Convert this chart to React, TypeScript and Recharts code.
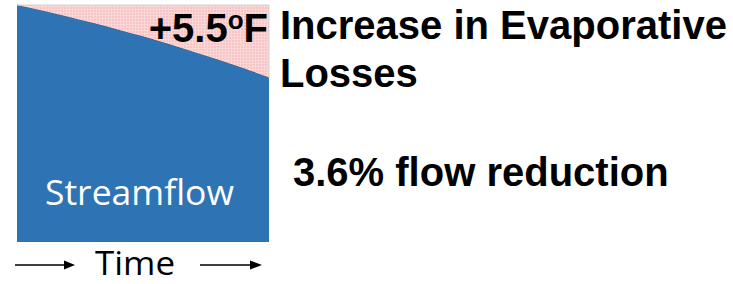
import { AreaChart, Area, XAxis, YAxis } from "recharts";

// time steps across the box (left edge to right edge)
const TIME_STEPS = [0, 1, 2, 3, 4, 5, 6, 7, 8, 9, 10];
// remaining streamflow (blue) and evaporative loss (pink) in % of the baseline
const STREAMFLOW = [100, 97.7, 95.2, 92.5, 89.7, 86.8, 83.6, 80.3, 76.9, 73.3, 69.5];
const LOSSES = [0, 2.3, 4.8, 7.5, 10.3, 13.2, 16.4, 19.7, 23.1, 26.7, 30.5];

const chartData = TIME_STEPS.map((t, i) => ({
  t,
  streamflow: STREAMFLOW[i],
  losses: LOSSES[i],
}));

const BOLD = "'Liberation Sans', Arial, sans-serif";
const SOFT = "'Open Sans', 'Noto Sans', sans-serif";

export default function App() {
  return (
    <div style={{ position: "absolute", left: 0, top: 0, width: 733, height: 284, background: "#fff" }}>
      <AreaChart
        width={733}
        height={284}
        data={chartData}
        margin={{ top: 5, right: 464, bottom: 42, left: 17 }}
      >
        <defs>
          <pattern id="pinkDots" width="3" height="3" patternUnits="userSpaceOnUse">
            <rect width="3" height="3" fill="#f7c3c4" />
            <rect width="1" height="3" fill="#fbd8d8" />
            <rect width="3" height="1" fill="#fbd8d8" />
          </pattern>
        </defs>
        <XAxis dataKey="t" type="number" domain={[0, 10]} hide />
        <YAxis type="number" domain={[0, 100]} hide />
        <Area
          type="monotone"
          dataKey="streamflow"
          stackId="a"
          stroke="#3d4d5f"
          strokeWidth={0.8}
          fill="#2e73b4"
          fillOpacity={1}
          isAnimationActive={false}
        />
        <Area
          type="monotone"
          dataKey="losses"
          stackId="a"
          stroke="#d4d4d4"
          strokeWidth={1}
          fill="url(#pinkDots)"
          fillOpacity={1}
          isAnimationActive={false}
        />
      </AreaChart>
      <svg
        width={733}
        height={284}
        style={{ position: "absolute", left: 0, top: 0, pointerEvents: "none" }}
      >
        <line x1={269} y1={5} x2={269} y2={78} stroke="#d4d4d4" strokeWidth={1} />
        <text x={268} y={42} textAnchor="end" fontFamily={BOLD} fontWeight="bold" fontSize={40} fill="#000">
          +5.5
          <tspan fontSize={26} dy={-13}>o</tspan>
          <tspan dy={13}>F</tspan>
        </text>
        <text x={280} y={39} fontFamily={BOLD} fontWeight="bold" fontSize={40} fill="#000">
          Increase in Evaporative
        </text>
        <text x={280} y={87} fontFamily={BOLD} fontWeight="bold" fontSize={40} fill="#000">
          Losses
        </text>
        <text x={293} y={186} fontFamily={BOLD} fontWeight="bold" fontSize={40} fill="#000">
          3.6% flow reduction
        </text>
        <text x={45} y={205} fontFamily={SOFT} fontSize={35.5} fill="#fff">
          Streamflow
        </text>
        <text x={95} y={274.5} fontFamily={SOFT} fontSize={32} textLength={80} lengthAdjust="spacingAndGlyphs" fill="#000">
          Time
        </text>
        <line x1={15} y1={265} x2={66} y2={265} stroke="#000" strokeWidth={1.5} />
        <polygon points="64,260.5 75,265 64,269.5" fill="#000" />
        <line x1={200} y1={265} x2={252} y2={265} stroke="#000" strokeWidth={1.5} />
        <polygon points="250,260.5 262,265 250,269.5" fill="#000" />
      </svg>
    </div>
  );
}
